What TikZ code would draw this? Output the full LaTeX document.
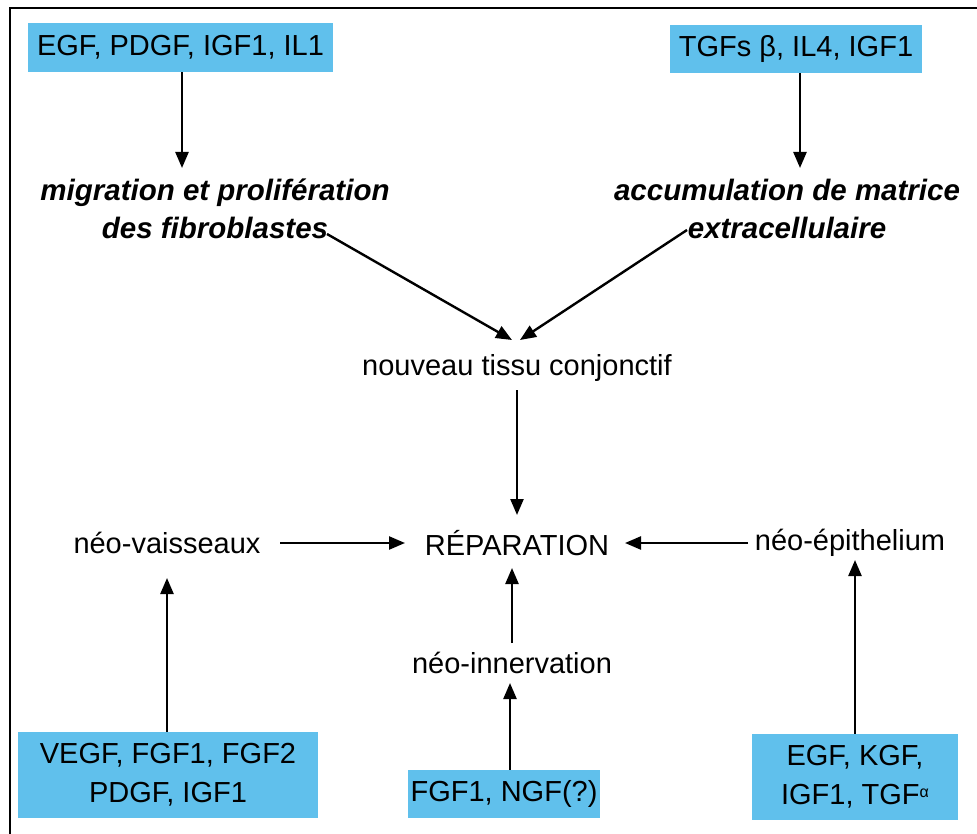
\documentclass[tikz,border=0pt]{standalone}
\usepackage{fontspec}
\setmainfont{Liberation Sans}
\usetikzlibrary{arrows.meta}
\definecolor{boxblue}{RGB}{96,192,236}
\tikzset{
  fbox/.style={fill=boxblue, inner sep=0pt, align=center, font=\fontsize{29}{39}\selectfont},
  lbl/.style={inner sep=0pt, align=center, font=\fontsize{29}{38}\selectfont},
  emlbl/.style={inner sep=0pt, align=center, font=\fontsize{29.5}{38}\selectfont\bfseries\itshape},
  arr/.style={line width=2.4pt, -{Triangle[length=16pt,width=13pt]}},
  frame/.style={line width=2.5pt}
}
\begin{document}
\begin{tikzpicture}[x=1pt,y=-1pt]
\useasboundingbox (0,0) rectangle (977,834);
\draw[frame] (978,8) -- (10,8) -- (10,835);

% boxes
\node[fbox, minimum width=305pt, minimum height=49pt] (b1) at (180.5,47.5) {EGF, PDGF, IGF1, IL1};
\node[fbox, minimum width=252pt, minimum height=48pt] (b2) at (796,49) {TGFs β, IL4, IGF1};
\node[fbox, minimum width=300pt, minimum height=86pt] (bl) at (168,775) {VEGF, FGF1, FGF2\\PDGF, IGF1};
\node[fbox, minimum width=192pt, minimum height=48pt] (bm) at (504,794) {FGF1, NGF(?)};
\node[fbox, minimum width=206pt, minimum height=86pt] (br) at (855,777) {EGF, KGF,\\IGF1, TGF\raisebox{0.45ex}{\fontsize{16}{16}\selectfont α}};

% labels
\node[emlbl] (mig) at (215,209) {migration et prolifération\\des fibroblastes};
\node[emlbl] (acc) at (787,209) {accumulation de matrice\\extracellulaire};
\node[lbl] (nou) at (517,368) {nouveau tissu conjonctif};
\node[lbl] (rep) at (517,543) {RÉPARATION};
\node[lbl] (vai) at (167,543) {néo-vaisseaux};
\node[lbl] (epi) at (850,543) {néo-épithelium};
\node[lbl] (inn) at (512,663) {néo-innervation};

% arrows
\draw[arr] ([xshift=1.5pt]b1.south) -- ([xshift=1.5pt]b1.south |- {(0,168)});
\draw[arr] ([xshift=4pt]b2.south) -- ([xshift=4pt]b2.south |- {(0,168)});
\draw[arr] ([shift={(112,25)}]mig.center) -- ([shift={(-5,-28)}]nou.center);
\draw[arr] ([shift={(-100,21)}]acc.center) -- ([shift={(3,-28)}]nou.center);
\draw[arr] ([shift={(0,22)}]nou.center) -- ([shift={(0,-28)}]rep.center);
\draw[arr] ([shift={(113,0)}]vai.center) -- ([shift={(-112,0)}]rep.center);
\draw[arr] ([shift={(-102,0)}]epi.center) -- ([shift={(108,0)}]rep.center);
\draw[arr] ([shift={(0,-20)}]inn.center) -- ([shift={(-5,25)}]rep.center);
\draw[arr] ([xshift=-1pt]bl.north) -- ([shift={(0,35)}]vai.center);
\draw[arr] ([xshift=6pt]bm.north) -- ([shift={(-2,20)}]inn.center);
\draw[arr] (br.north) -- ([shift={(5,17)}]epi.center);
\end{tikzpicture}
\end{document}
